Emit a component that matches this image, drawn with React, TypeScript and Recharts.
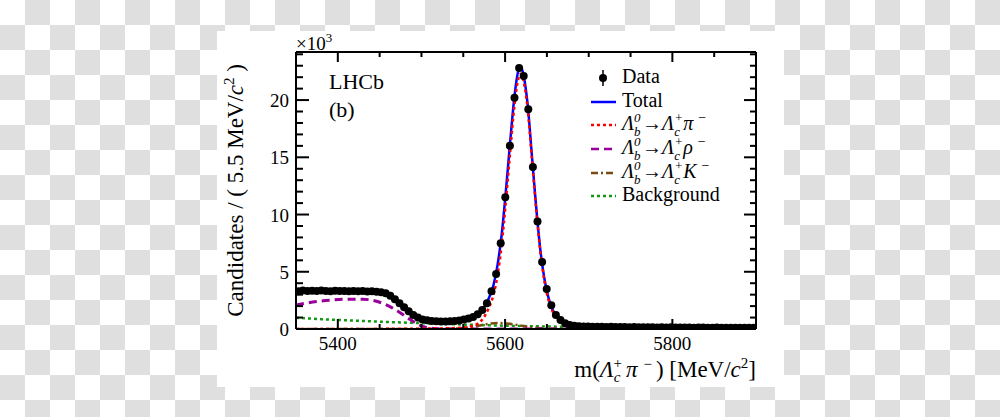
import React from 'react'
import { ComposedChart, Line, Scatter, XAxis, YAxis, Legend } from 'recharts'

const FONT = '"Liberation Serif", "Times New Roman", serif'

// binning: 100 bins of 5.5 MeV between 5350 and 5900
const BIN_LO = 5350
const BIN_W = 5.5

// candidates per bin, x10^3
const dataCounts = [
  3.30, 3.36, 3.31, 3.35, 3.33, 3.36, 3.32, 3.30, 3.34, 3.31,
  3.33, 3.30, 3.32, 3.29, 3.31, 3.28, 3.29, 3.25, 3.22, 3.12,
  2.90, 2.60, 2.25, 1.90, 1.55, 1.22, 1.00, 0.84, 0.76, 0.70,
  0.68, 0.66, 0.66, 0.67, 0.70, 0.74, 0.82, 0.92, 1.05, 1.28,
  1.66, 2.25, 3.30, 4.80, 7.50, 11.5, 16.0, 20.2, 22.8, 22.1,
  19.2, 14.15, 9.40, 5.85, 3.50, 2.07, 1.22, 0.78, 0.50, 0.36,
  0.28, 0.24, 0.22, 0.21, 0.20, 0.19, 0.20, 0.18, 0.19, 0.17,
  0.18, 0.17, 0.16, 0.17, 0.16, 0.15, 0.16, 0.15, 0.14, 0.15,
  0.14, 0.15, 0.13, 0.14, 0.13, 0.14, 0.12, 0.13, 0.13, 0.12,
  0.12, 0.13, 0.11, 0.12, 0.12, 0.11, 0.12, 0.11, 0.11, 0.10,
]

// fit curves
const totalMass = [5350, 5370, 5390, 5410, 5430, 5445, 5455, 5465, 5475, 5485, 5495, 5505, 5515, 5530, 5545, 5555, 5563, 5568, 5574, 5580, 5586, 5591, 5596, 5601, 5606, 5611, 5616, 5619, 5622, 5627, 5632, 5637, 5642, 5647, 5652, 5657, 5663, 5670, 5685, 5720, 5800, 5900]
const totalVals = [3.30, 3.33, 3.33, 3.32, 3.31, 3.28, 3.15, 2.80, 2.15, 1.50, 1.02, 0.78, 0.69, 0.66, 0.73, 0.90, 1.12, 1.35, 1.80, 2.60, 3.80, 5.60, 8.30, 12.1, 16.3, 20.2, 22.6, 22.9, 22.2, 19.6, 15.2, 10.8, 7.00, 4.40, 2.70, 1.65, 0.98, 0.60, 0.33, 0.22, 0.15, 0.10]

const sigMass = [5350, 5450, 5500, 5530, 5550, 5560, 5568, 5574, 5580, 5586, 5591, 5596, 5601, 5606, 5611, 5616, 5619, 5622, 5627, 5632, 5637, 5642, 5647, 5652, 5657, 5663, 5670, 5685, 5720, 5800, 5900]
const sigVals = [0, 0.01, 0.03, 0.06, 0.12, 0.25, 0.50, 0.95, 1.75, 2.95, 4.70, 7.40, 11.2, 15.4, 19.4, 21.9, 22.3, 21.7, 19.2, 14.9, 10.6, 6.85, 4.20, 2.50, 1.50, 0.85, 0.45, 0.15, 0.04, 0.01, 0]

const rhoMass = [5350, 5370, 5390, 5410, 5430, 5445, 5455, 5465, 5475, 5485, 5495, 5505, 5515, 5530, 5900]
const rhoVals = [2.10, 2.35, 2.52, 2.60, 2.60, 2.45, 2.20, 1.85, 1.40, 0.90, 0.45, 0.15, 0.04, 0, 0]

const kMass = [5350, 5520, 5540, 5555, 5568, 5580, 5592, 5602, 5614, 5626, 5640, 5660, 5680, 5900]
const kVals = [0, 0, 0.03, 0.12, 0.28, 0.45, 0.52, 0.48, 0.36, 0.20, 0.08, 0.02, 0, 0]

const bkgMass = [5350, 5400, 5450, 5500, 5550, 5600, 5650, 5700, 5800, 5900]
const bkgVals = [0.98, 0.79, 0.64, 0.51, 0.39, 0.29, 0.22, 0.17, 0.11, 0.07]

const xTicks = [5400, 5450, 5500, 5550, 5600, 5650, 5700, 5750, 5800, 5850]
const xLabels = [5400, 5600, 5800]
const yTicks = [0, 1, 2, 3, 4, 5, 6, 7, 8, 9, 10, 11, 12, 13, 14, 15, 16, 17, 18, 19, 20, 21, 22, 23, 24]
const yLabels = [0, 5, 10, 15, 20]

const pts = (ms: number[], vs: number[]) => ms.map((m, i) => ({ m, v: vs[i] }))
const dataPts = dataCounts.map((v, i) => ({ m: BIN_LO + BIN_W * (i + 0.5), v }))

const BLUE = '#0000ff'
const RED = '#ff0000'
const PURPLE = '#990099'
const BROWN = '#7a4a12'
const GREEN = '#119911'

function BottomTick({ x, y, payload }: any) {
  const major = xLabels.includes(payload.value)
  return (
    <g>
      <line x1={x} x2={x} y1={y} y2={y - (major ? 10 : 5)} stroke="#000" strokeWidth={2} />
      {major && (
        <text x={x} y={y + 21} textAnchor="middle" fontSize={19} fontFamily={FONT} fill="#000">
          {payload.value}
        </text>
      )}
    </g>
  )
}

function TopTick({ x, y, payload }: any) {
  const major = xLabels.includes(payload.value)
  return <line x1={x} x2={x} y1={y} y2={y + (major ? 10 : 5)} stroke="#000" strokeWidth={2} />
}

function LeftTick({ x, y, payload }: any) {
  const major = yLabels.includes(payload.value)
  return (
    <g>
      <line x1={x} x2={x + (major ? 13 : 7)} y1={y} y2={y} stroke="#000" strokeWidth={2} />
      {major && (
        <text x={x - 7} y={y + 7} textAnchor="end" fontSize={19} fontFamily={FONT} fill="#000">
          {payload.value}
        </text>
      )}
    </g>
  )
}

function RightTick({ x, y, payload }: any) {
  const major = yLabels.includes(payload.value)
  return <line x1={x} x2={x - (major ? 12 : 6)} y1={y} y2={y} stroke="#000" strokeWidth={2} />
}

function YTitle() {
  return (
    <g fontFamily={FONT} fill="#000">
      <text transform="translate(243,64) rotate(-90)" textAnchor="end" fontSize={23}>
        Candidates / ( 5.5 MeV/<tspan fontStyle="italic">c</tspan>
        <tspan fontSize={15} dy={-9}>2</tspan>
        <tspan dy={9}> )</tspan>
      </text>
      <text x={296} y={50} fontSize={19}>
        ×10<tspan fontSize={13} dy={-8}>3</tspan>
      </text>
      <text x={329} y={89} fontSize={22}>LHCb</text>
      <text x={329} y={117} fontSize={22}>(b)</text>
    </g>
  )
}

function XTitle() {
  return (
    <text x={756} y={377} textAnchor="end" fontSize={23} fontFamily={FONT} fill="#000">
      m(<tspan fontStyle="italic">Λ</tspan>
      <tspan fontSize={15} fontStyle="italic" dy={5}>c</tspan>
      <tspan fontSize={15} dx={-7} dy={-14}>+</tspan>
      <tspan fontStyle="italic" dx={4} dy={9}>π</tspan>
      <tspan fontSize={15} dx={6} dy={-8}>−</tspan>
      <tspan dx={4} dy={8}>) [MeV/</tspan>
      <tspan fontStyle="italic">c</tspan>
      <tspan fontSize={15} dy={-9}>2</tspan>
      <tspan dy={9}>]</tspan>
    </text>
  )
}

// stacked super/subscript pair
function Ss({ sup, sub, w }: { sup: string; sub: string; w: number }) {
  return (
    <span style={{ position: 'relative', display: 'inline-block', width: w, height: 0, fontSize: 13, lineHeight: '13px' }}>
      <span style={{ position: 'absolute', left: 0, top: -19, fontStyle: 'italic' }}>{sup}</span>
      <span style={{ position: 'absolute', left: 0, top: -5, fontStyle: 'italic' }}>{sub}</span>
    </span>
  )
}

function Decay({ d }: { d: string }) {
  return (
    <span>
      <i>Λ</i>
      <Ss sup="0" sub="b" w={8} />→<i>Λ</i>
      <Ss sup="+" sub="c" w={9} />
      <i>{d}</i>
      <span style={{ position: 'relative', top: -8, fontSize: 14, marginLeft: 5 }}>−</span>
    </span>
  )
}

const legendRows = [
  { id: 'data', label: <>Data</> },
  { id: 'total', color: BLUE, dash: undefined, label: <>Total</> },
  { id: 'sig', color: RED, dash: '3 3', label: <Decay d="π" /> },
  { id: 'rho', color: PURPLE, dash: '8 5', label: <Decay d="ρ" /> },
  { id: 'k', color: BROWN, dash: '7 3 2 3', label: <Decay d="K" /> },
  { id: 'bkg', color: GREEN, dash: '3 3', label: <>Background</> },
]

function LegendBox() {
  return (
    <div style={{ fontFamily: FONT, fontSize: 20, color: '#000' }}>
      {legendRows.map((r: any) => (
        <div key={r.id} style={{ display: 'flex', alignItems: 'center', height: 23.7 }}>
          <svg width={30} height={24} style={{ flex: 'none' }}>
            {r.id === 'data' ? (
              <g>
                <line x1={14} x2={14} y1={4} y2={20} stroke="#000" strokeWidth={1.5} />
                <circle cx={14} cy={12} r={4} fill="#000" />
              </g>
            ) : (
              <line x1={2} x2={27} y1={12} y2={12} stroke={r.color} strokeWidth={2.5} strokeDasharray={r.dash} />
            )}
          </svg>
          <span style={{ marginLeft: 3, position: 'relative', top: -1.5, whiteSpace: 'nowrap' }}>{r.label}</span>
        </div>
      ))}
    </div>
  )
}

export default function App() {
  return (
    <div
      style={{
        position: 'absolute',
        left: 0,
        top: 0,
        width: 1000,
        height: 417,
        background: 'repeating-conic-gradient(#dfdfdf 0% 25%, #ffffff 0% 50%) 0 0 / 50px 50px',
      }}
    >
      <div style={{ position: 'absolute', left: 217, top: 31, width: 567, height: 356, background: '#fff' }} />
      <div style={{ position: 'absolute', left: 0, top: 0 }}>
        <ComposedChart width={1000} height={417} margin={{ top: 22, right: 214, bottom: 58, left: 236 }}>
          <XAxis
            xAxisId="bottom"
            type="number"
            dataKey="m"
            domain={[5350, 5900]}
            allowDataOverflow
            ticks={xTicks}
            interval={0}
            height={30}
            tickSize={0}
            tickMargin={0}
            tick={<BottomTick />}
            axisLine={{ stroke: '#000', strokeWidth: 2 }}
            label={XTitle}
          />
          <XAxis
            xAxisId="top"
            orientation="top"
            type="number"
            dataKey="m"
            domain={[5350, 5900]}
            allowDataOverflow
            ticks={xTicks}
            interval={0}
            height={30}
            tickSize={0}
            tickMargin={0}
            tick={<TopTick />}
            axisLine={{ stroke: '#000', strokeWidth: 2 }}
          />
          <YAxis
            yAxisId="left"
            type="number"
            domain={[0, 24.2]}
            allowDataOverflow
            ticks={yTicks}
            interval={0}
            width={60}
            tickSize={0}
            tickMargin={0}
            tick={<LeftTick />}
            axisLine={{ stroke: '#000', strokeWidth: 2 }}
            label={YTitle}
          />
          <YAxis
            yAxisId="right"
            orientation="right"
            type="number"
            domain={[0, 24.2]}
            allowDataOverflow
            ticks={yTicks}
            interval={0}
            width={30}
            tickSize={0}
            tickMargin={0}
            tick={<RightTick />}
            axisLine={{ stroke: '#000', strokeWidth: 2 }}
          />
          <Line xAxisId="bottom" yAxisId="left" data={pts(bkgMass, bkgVals)} dataKey="v" type="monotone" stroke={GREEN} strokeWidth={2.5} strokeDasharray="3 3" dot={false} activeDot={false} isAnimationActive={false} />
          <Line xAxisId="bottom" yAxisId="left" data={pts(kMass, kVals)} dataKey="v" type="monotone" stroke={BROWN} strokeWidth={2.5} strokeDasharray="7 3 2 3" dot={false} activeDot={false} isAnimationActive={false} />
          <Line xAxisId="bottom" yAxisId="left" data={pts(rhoMass, rhoVals)} dataKey="v" type="monotone" stroke={PURPLE} strokeWidth={3} strokeDasharray="8 5" dot={false} activeDot={false} isAnimationActive={false} />
          <Line xAxisId="bottom" yAxisId="left" data={pts(totalMass, totalVals)} dataKey="v" type="monotone" stroke={BLUE} strokeWidth={2.5} dot={false} activeDot={false} isAnimationActive={false} />
          <Line xAxisId="bottom" yAxisId="left" data={pts(sigMass, sigVals)} dataKey="v" type="monotone" stroke={RED} strokeWidth={2.5} strokeDasharray="3 3" dot={false} activeDot={false} isAnimationActive={false} />
          <Scatter
            xAxisId="bottom"
            yAxisId="left"
            data={dataPts}
            dataKey="v"
            isAnimationActive={false}
            shape={(p: any) => <circle cx={p.cx} cy={p.cy} r={4} fill="#000" />}
          />
          <Legend
            layout="horizontal"
            verticalAlign="middle"
            align="center"
            content={() => <LegendBox />}
            wrapperStyle={{ left: 589, top: 66, width: 180, height: 150 }}
          />
        </ComposedChart>
      </div>
    </div>
  )
}
